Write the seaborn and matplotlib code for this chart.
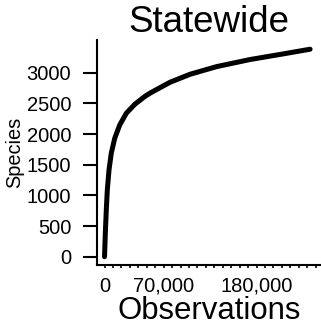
import numpy as np
import pandas as pd
import matplotlib
matplotlib.use("Agg")
import matplotlib.pyplot as plt
import seaborn as sns

observations = [0, 950, 2100, 3300, 5300, 8000, 12100, 18000, 25800, 35800,
                47600, 53900, 77600, 101300, 132900, 172400, 211800, 243400]
species = [0, 382, 762, 1088, 1414, 1687, 1931, 2148, 2339, 2485,
           2612, 2668, 2845, 2975, 3100, 3215, 3307, 3383]
band = [0, 25, 35, 40, 40, 40, 40, 40, 40, 40, 40, 40, 35, 35, 30, 25, 20, 15]

y_ticks = [0, 500, 1000, 1500, 2000, 2500, 3000]
x_labeled = [0, 70000, 180000]
x_tick_labels = ["0", "70,000", "180,000"]

sns.set_theme(style="ticks")
plt.rcParams['font.family'] = ['Liberation Sans', 'DejaVu Sans']
plt.rcParams['text.color'] = 'black'
plt.rcParams['axes.labelcolor'] = 'black'

df = pd.DataFrame({"Observations": observations, "Species": species})
lo = np.array(species) - np.array(band)
hi = np.array(species) + np.array(band)

fig = plt.figure(figsize=(3.21, 3.35), dpi=100)
ax = fig.add_axes([97 / 321, (335 - 265) / 335, 224 / 321, 225 / 335])
ax.fill_between(observations, lo, hi, color="#b8b8b8", lw=0)
sns.lineplot(data=df, x="Observations", y="Species", color="black", lw=3.6,
             ax=ax, solid_capstyle="round", solid_joinstyle="round")

ax.set_xlim(-8900, 256300)
ax.set_ylim(-135, 3533)
ax.set_yticks(y_ticks)
ax.set_xticks(x_labeled)
ax.set_xticklabels(x_tick_labels)
ax.set_xticks(np.arange(0, 256000, 10000), minor=True)
ax.tick_params(axis="y", which="major", direction="out", length=10, width=1.5,
               labelsize=14.5, colors="black", pad=8.5)
ax.tick_params(axis="x", which="major", direction="out", length=2.5, width=1.2,
               labelsize=14.5, colors="black", pad=6)
ax.tick_params(axis="x", which="minor", direction="out", length=2.5, width=1.2,
               colors="black")
for s in ["top", "right"]:
    ax.spines[s].set_visible(False)
for s in ["left", "bottom"]:
    ax.spines[s].set_linewidth(1.5)
    ax.spines[s].set_color("black")
ax.set_xlabel("Observations", fontsize=22.4, labelpad=0)
ax.set_ylabel("Species", fontsize=14.4, labelpad=2)
ax.set_title("Statewide", fontsize=26.5, pad=0.5)
fig.savefig("out.png", dpi=100)
